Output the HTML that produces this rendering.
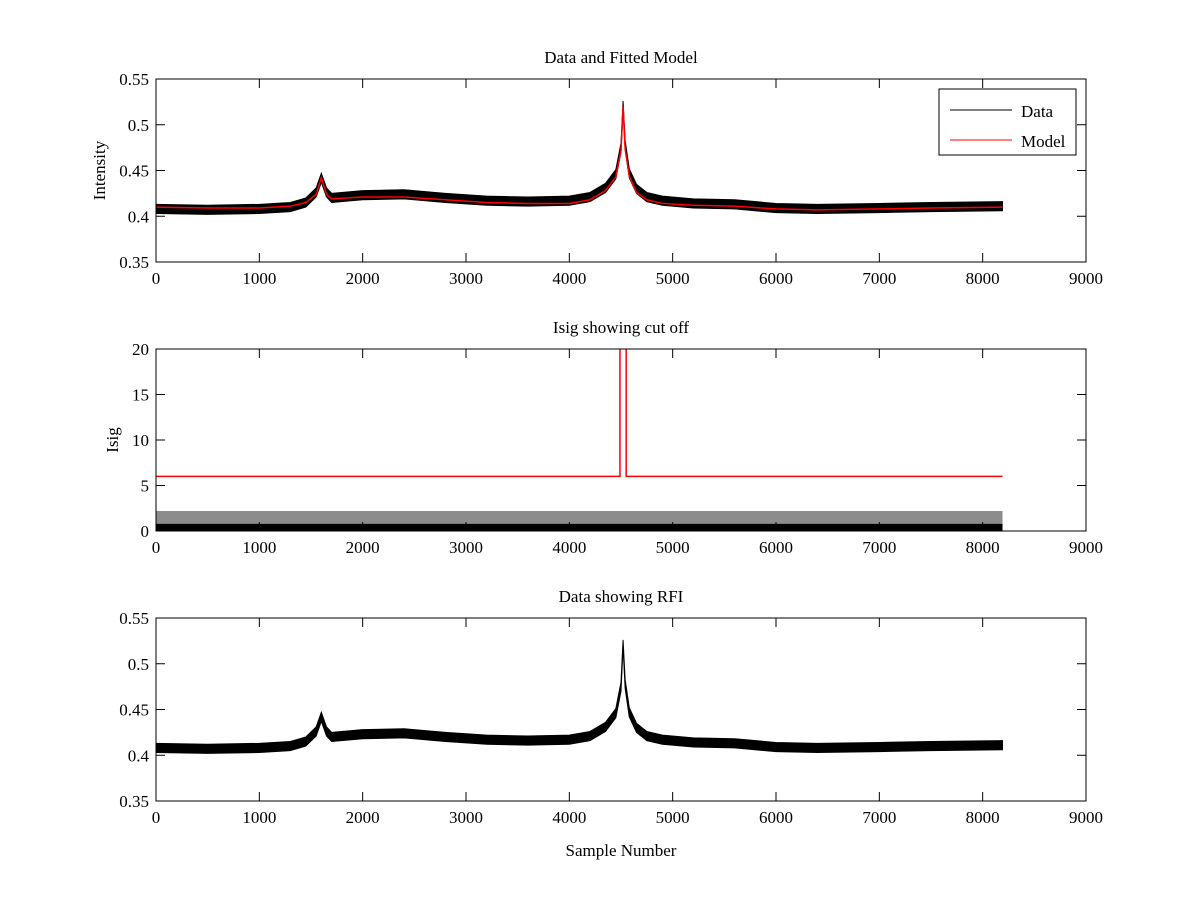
<!DOCTYPE html>
<html><head><meta charset="utf-8"><style>
body{margin:0;background:#fff;}
svg{display:block;font-family:"Liberation Serif",serif;}
</style></head><body>
<svg id="fig" width="1200" height="900" xmlns="http://www.w3.org/2000/svg">
<rect width="1200" height="900" fill="#fff"/>
</svg>
<script>
// ---- data ----
const sampleX = [0,500,1000,1300,1450,1550,1600,1650,1700,2000,2400,2800,3200,3600,4000,4200,4350,4450,4500,4520,4540,4580,4650,4750,4900,5200,5600,6000,6400,7000,7500,8192];
const dataVals = [0.408,0.407,0.408,0.410,0.415,0.426,0.442,0.426,0.420,0.423,0.424,0.420,0.417,0.416,0.417,0.421,0.431,0.446,0.475,0.522,0.478,0.447,0.430,0.421,0.417,0.414,0.413,0.409,0.408,0.409,0.410,0.411];
const modelVals = [0.410,0.409,0.409,0.411,0.415,0.424,0.442,0.424,0.419,0.421,0.421,0.418,0.415,0.414,0.414,0.418,0.428,0.443,0.472,0.520,0.474,0.444,0.426,0.418,0.414,0.412,0.411,0.408,0.407,0.408,0.409,0.410];
const noiseAmp = [0.005,0.005,0.005,0.005,0.005,0.005,0.005,0.005,0.005,0.005,0.005,0.005,0.005,0.005,0.005,0.005,0.005,0.005,0.005,0.004,0.005,0.005,0.005,0.005,0.005,0.005,0.005,0.005,0.005,0.005,0.005,0.005];
const isigLevel = 0.8;
const isigSpike = 2.2;
const threshX = [0,4490,4490,4550,4550,8192];
const threshV = [6,6,25,25,6,6];
const xTicks = [0,1000,2000,3000,4000,5000,6000,7000,8000,9000];
const yTicksA = [0.35,0.4,0.45,0.5,0.55];
const yTicksB = [0,5,10,15,20];

const svg=document.getElementById('fig');
const NS='http://www.w3.org/2000/svg';
function el(tag,attrs,parent){const e=document.createElementNS(NS,tag);for(const k in attrs)e.setAttribute(k,attrs[k]);(parent||svg).appendChild(e);return e;}
const L=156,R=1086;
const sx=v=>L+(v/9000)*(R-L);
function makeY(top,bot,min,max){return v=>bot-(v-min)/(max-min)*(bot-top);}

function axes(name,top,bot,yTicks,ymin,ymax,title,ylabel,ylx){
  const g=el('g',{});
  
  
  const sy=makeY(top,bot,ymin,ymax);
  const clip=el('clipPath',{id:'c'+name},g);el('rect',{x:L,y:top,width:R-L,height:bot-top},clip);
  const plot=el('g',{'clip-path':'url(#c'+name+')'},g);
  xTicks.forEach(t=>{const x=sx(t);
    el('line',{x1:x,y1:bot,x2:x,y2:bot-9,stroke:'#000'},g);el('line',{x1:x,y1:top,x2:x,y2:top+9,stroke:'#000'},g);
    const tx=el('text',{x:x,y:bot+22,'font-size':17,'text-anchor':'middle'},g);tx.textContent=t;
    });
  yTicks.forEach(t=>{const y=sy(t);
    el('line',{x1:L,y1:y,x2:L+9,y2:y,stroke:'#000'},g);el('line',{x1:R,y1:y,x2:R-9,y2:y,stroke:'#000'},g);
    const tx=el('text',{x:L-7,y:y+6,'font-size':17,'text-anchor':'end'},g);tx.textContent=t;
    });
  el('rect',{x:L,y:top,width:R-L,height:bot-top,fill:'none',stroke:'#000'},g);
  const tt=el('text',{x:(L+R)/2,y:top-16,'font-size':17,'text-anchor':'middle'},g);tt.textContent=title;
  
  if(ylabel){const yl=el('text',{x:ylx,y:(top+bot)/2,'font-size':17,'text-anchor':'middle',transform:`rotate(-90 ${ylx} ${(top+bot)/2})`},g);yl.textContent=ylabel;
    }
  return {plot,sy};
}
function band(plot,sy,name){
  let up=sampleX.map((s,i)=>sx(s)+','+sy(dataVals[i]+noiseAmp[i]));
  let dn=sampleX.map((s,i)=>sx(s)+','+sy(dataVals[i]-noiseAmp[i])).reverse();
  const p=el('polygon',{points:up.concat(dn).join(' '),fill:'#000',stroke:'#000','stroke-width':1},plot);
  
}
function line(plot,sy,xs,vs,color,name){
  const p=el('polyline',{points:xs.map((s,i)=>sx(s)+','+sy(vs[i])).join(' '),fill:'none',stroke:color,'stroke-width':1.5},plot);
  
}
// panel 1
const A=axes('panel-model',79,262,yTicksA,0.35,0.55,'Data and Fitted Model','Intensity',105);
band(A.plot,A.sy,'data-series');
line(A.plot,A.sy,sampleX,modelVals,'#f00','model-series');
// legend
const lg=el('g',{});

el('rect',{x:939,y:89,width:137,height:66,fill:'#fff',stroke:'#000'},lg);
el('line',{x1:950,y1:110,x2:1012,y2:110,stroke:'#000'},lg);
el('line',{x1:950,y1:140,x2:1012,y2:140,stroke:'#f00'},lg);
let t1=el('text',{x:1021,y:117,'font-size':17},lg);t1.textContent='Data';

let t2=el('text',{x:1021,y:147,'font-size':17},lg);t2.textContent='Model';

// panel 2
const B=axes('panel-isig',349,531,yTicksB,0,20,'Isig showing cut off','Isig',118);
const bb=el('polygon',{points:[sx(0)+','+B.sy(0),sx(0)+','+B.sy(isigLevel),sx(8192)+','+B.sy(isigLevel),sx(8192)+','+B.sy(0)].join(' '),fill:'#000'},B.plot);

const sp=el('rect',{x:sx(0),y:B.sy(isigSpike),width:sx(8192)-sx(0),height:B.sy(isigLevel)-B.sy(isigSpike),fill:'#000','fill-opacity':0.45},B.plot);

line(B.plot,B.sy,threshX,threshV,'#f00','threshold-line');
// panel 3
const C=axes('panel-rfi',618,801,yTicksA,0.35,0.55,'Data showing RFI',null,0);
band(C.plot,C.sy,'rfi-data-series');
const xl=el('text',{x:(L+R)/2,y:856,'font-size':17,'text-anchor':'middle'});xl.textContent='Sample Number';

</script>
</body></html>
